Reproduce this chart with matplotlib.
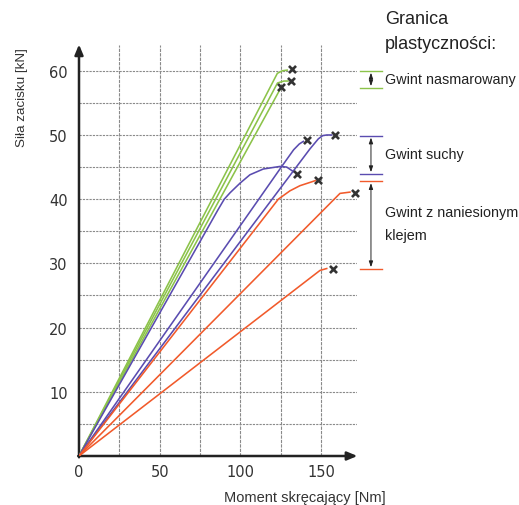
import matplotlib
matplotlib.use("Agg")
import matplotlib.pyplot as plt

# ---- data (torque [Nm], clamp force [kN]) ----
green1_x = [0, 122.9, 126.0, 129.0]
green1_y = [0, 59.6, 60.0, 60.1]
green2_x = [0, 123.0, 127.0, 129.5]
green2_y = [0, 58.1, 58.4, 58.4]
green3_x = [0, 125.0]
green3_y = [0, 57.3]

blueA_x = [0, 86.0, 90.0, 93.6, 99.8, 105.9, 114.2, 124.5, 128.7, 132.8]
blueA_y = [0, 38.3, 40.0, 41.0, 42.5, 43.8, 44.7, 45.1, 45.0, 44.3]
blueB_x = [0, 124.5, 133.0, 136.5, 139.0]
blueB_y = [0, 44.7, 47.7, 48.6, 49.0]
blueC_x = [0, 143.0, 148.3, 151.0, 153.5, 156.6]
blueC_y = [0, 47.8, 49.4, 49.9, 50.0, 50.0]

red1_x = [0, 123.5, 130.7, 136.9, 144.2, 146.5]
red1_y = [0, 40.0, 41.3, 42.1, 42.7, 42.9]
red2_x = [0, 161.7, 167.9]
red2_y = [0, 40.9, 41.1]
red3_x = [0, 149.3, 153.5]
red3_y = [0, 28.9, 29.2]

# failure markers (x)
mark_x = [131.7, 131.4, 125.4, 134.9, 141.0, 158.4, 148.3, 170.8, 157.5]
mark_y = [60.2, 58.4, 57.4, 43.9, 49.2, 50.0, 43.0, 41.0, 29.2]

# yield-limit ranges
green_range = [57.3, 60.0]
blue_range = [43.9, 49.9]
red_range = [29.1, 42.8]

x_ticks = [0, 50, 100, 150]
y_ticks = [10, 20, 30, 40, 50, 60]

GREEN = "#8cc34a"
BLUE = "#5a4cb0"
RED = "#f15a2b"

fig = plt.figure(figsize=(5.19, 5.06), dpi=100)
W, H = 519, 506
ax = fig.add_axes([79 / W, 49 / H, 277.6 / W, 412.2 / H])
ax.set_xlim(0, 172)
ax.set_ylim(0, 64.2)
for s in ax.spines.values():
    s.set_visible(False)

# grid
for gx in range(25, 151, 25):
    ax.plot([gx, gx], [0, 64], color="#8a8a8a", lw=0.8, ls=(0, (3, 1)), zorder=1)
for gy in range(5, 61, 5):
    ax.plot([0, 172], [gy, gy], color="#8a8a8a", lw=0.8, ls=(0, (2, 1)), zorder=1)

# axes with arrows
ax.annotate("", xy=(0, 64.1), xytext=(0, -0.2),
            arrowprops=dict(arrowstyle="-|>,head_length=0.6,head_width=0.25",
                            lw=1.8, color="#222222", shrinkA=0, shrinkB=0),
            annotation_clip=False)
ax.annotate("", xy=(172.5, 0), xytext=(-0.5, 0),
            arrowprops=dict(arrowstyle="-|>,head_length=0.6,head_width=0.25",
                            lw=1.8, color="#222222", shrinkA=0, shrinkB=0),
            annotation_clip=False)

lkw = dict(lw=1.15, zorder=3, solid_joinstyle="round")
for xs, ys in [(green1_x, green1_y), (green2_x, green2_y), (green3_x, green3_y)]:
    ax.plot(xs, ys, color=GREEN, **lkw)
for xs, ys in [(blueA_x, blueA_y), (blueB_x, blueB_y), (blueC_x, blueC_y)]:
    ax.plot(xs, ys, color=BLUE, **lkw)
for xs, ys in [(red1_x, red1_y), (red2_x, red2_y), (red3_x, red3_y)]:
    ax.plot(xs, ys, color=RED, **lkw)

ax.scatter(mark_x, mark_y, marker="x", s=26, linewidths=1.9, color="#333333",
           zorder=5, clip_on=False)

ax.set_xticks(x_ticks)
ax.set_xticklabels([str(v) for v in x_ticks])
ax.set_yticks(y_ticks)
ax.set_yticklabels([str(v) for v in y_ticks])
ax.tick_params(axis="both", length=0, labelsize=10.5, colors="#333333")
ax.tick_params(axis="x", pad=6)
ax.tick_params(axis="y", pad=8)

# right-hand range indicators
bx0, bx1, bxm = 174.1, 187.7, 180.9
for (lo, hi), c in [(green_range, GREEN), (blue_range, BLUE), (red_range, RED)]:
    ax.plot([bx0, bx1], [lo, lo], color=c, lw=1.0, clip_on=False)
    ax.plot([bx0, bx1], [hi, hi], color=c, lw=1.0, clip_on=False)
    ax.annotate("", xy=(bxm, lo + 0.3), xytext=(bxm, hi - 0.3),
                arrowprops=dict(arrowstyle="<|-|>,head_length=0.35,head_width=0.12",
                                lw=0.7, color="#222222", shrinkA=0, shrinkB=0),
                annotation_clip=False)

tf = "Liberation Sans"
tx = 189.6
ax.text(tx, 68.1, "Granica", fontsize=13, family=tf, color="#222222",
        va="center", ha="left", clip_on=False)
ax.text(tx, 64.2, "plastyczności:", fontsize=13, family=tf, color="#222222",
        va="center", ha="left", clip_on=False)
ax.text(tx, 58.7, "Gwint nasmarowany", fontsize=10.4, family=tf, color="#222222",
        va="center", ha="left", clip_on=False)
ax.text(tx, 47.0, "Gwint suchy", fontsize=10.4, family=tf, color="#222222",
        va="center", ha="left", clip_on=False)
ax.text(tx, 38.0, "Gwint z naniesionym", fontsize=10.4, family=tf, color="#222222",
        va="center", ha="left", clip_on=False)
ax.text(tx, 34.4, "klejem", fontsize=10.4, family=tf, color="#222222",
        va="center", ha="left", clip_on=False)

fig.text(21.7 / W, 1 - 98 / H, "Siła zacisku [kN]", rotation=90, fontsize=9.7,
         family=tf, color="#333333", ha="center", va="center")
fig.text(305 / W, 1 - 498 / H, "Moment skręcający [Nm]", fontsize=10.5,
         family=tf, color="#333333", ha="center", va="center")

fig.savefig("out.png", dpi=100, facecolor="white")
